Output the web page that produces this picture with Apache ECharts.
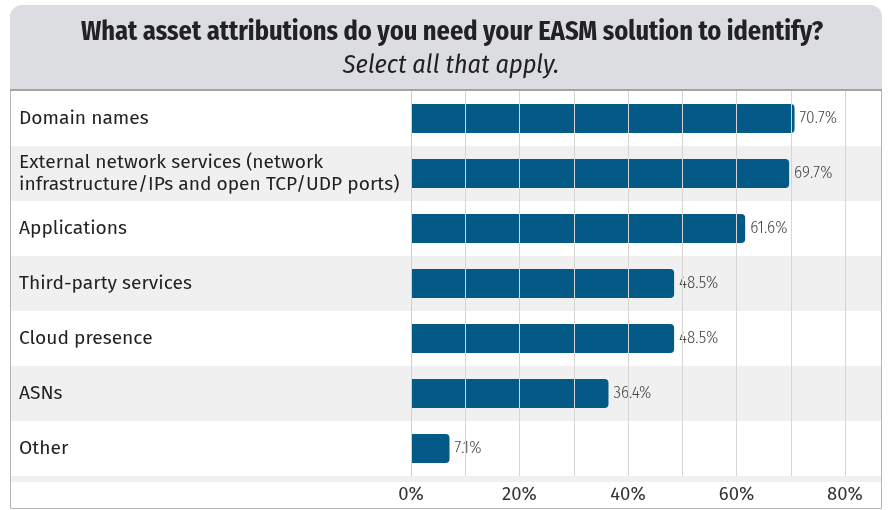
<!DOCTYPE html>
<html>
<head>
<meta charset="utf-8">
<script src="https://cdn.jsdelivr.net/npm/echarts@6/dist/echarts.min.js"></script>
<style>
  html, body { margin: 0; padding: 0; background: #ffffff; }
  #chart { width: 889px; height: 510px; }
</style>
</head>
<body>
<div id="chart"></div>
<script>
// Survey answers, top to bottom
const categories = [
  'Domain names',
  'External network services (network\ninfrastructure/IPs and open TCP/UDP ports)',
  'Applications',
  'Third-party services',
  'Cloud presence',
  'ASNs',
  'Other'
];
// Share of respondents (%)
const shares = [70.7, 69.7, 61.6, 48.5, 48.5, 36.4, 7.1];
// Labelled ticks on the percentage axis
const tickLabels = [0, 20, 40, 60, 80];

const titleLine = 'What asset attributions do you need your EASM solution to identify?';
const subtitleLine = 'Select all that apply.';

const condensed = '"Fira Sans Condensed", "DejaVu Sans Condensed", "Liberation Sans Narrow", sans-serif';
const regular = '"Fira Sans", "Noto Sans", "Open Sans", sans-serif';

const chart = echarts.init(document.getElementById('chart'), null, { renderer: 'canvas' });

chart.setOption({
  animation: false,
  backgroundColor: '#ffffff',
  title: [
    {
      text: titleLine,
      left: 447, top: 15, textAlign: 'center',
      textStyle: { fontFamily: condensed, fontWeight: 'bold', fontSize: 26.3, color: '#222222' }
    },
    {
      text: subtitleLine,
      left: 446, top: 48, textAlign: 'center',
      textStyle: { fontFamily: condensed, fontStyle: 'italic', fontWeight: 'normal', fontSize: 26, color: '#222222' }
    }
  ],
  graphic: [
    {
      type: 'rect', z: -10,
      shape: { x: 10, y: 5, width: 872, height: 85, r: [12, 12, 0, 0] },
      style: { fill: '#dcdde0' }
    },
    {
      // start of the next row band, cut off by the axis strip
      type: 'rect', z: -5,
      shape: { x: 11, y: 476, width: 871, height: 6 },
      style: { fill: '#f0f0f0' }
    },
    {
      type: 'rect', z: 20, silent: true,
      shape: { x: 10.5, y: 90.5, width: 871, height: 418 },
      style: { fill: 'none', stroke: '#b4b4b4', lineWidth: 1 }
    },
    {
      type: 'line', z: 21, silent: true,
      shape: { x1: 10, y1: 90, x2: 882, y2: 90 },
      style: { stroke: '#a3a3a3', lineWidth: 2 }
    }
  ],
  grid: [
    { left: 411, right: 44, top: 91, height: 385 },
    // full-width grid that only paints the alternating row bands
    { left: 11, right: 7, top: 91, height: 385 }
  ],
  xAxis: [
    {
      gridIndex: 0, type: 'value', min: 0, max: 80, interval: 10, z: 10,
      axisLine: { show: false }, axisTick: { show: false },
      splitLine: { show: true, lineStyle: { color: '#d6d6d6', width: 1 } },
      axisLabel: {
        margin: 9,
        fontFamily: regular, fontSize: 18.5, color: '#333333',
        formatter: v => tickLabels.includes(v) ? v + '%' : ''
      }
    },
    { gridIndex: 1, type: 'value', min: 0, max: 1, show: false }
  ],
  yAxis: [
    {
      gridIndex: 0, type: 'category', inverse: true, data: categories, z: 10,
      axisLine: { show: true, lineStyle: { color: '#cfcfcf', width: 1 } },
      axisTick: { show: false },
      axisLabel: {
        align: 'left', margin: 392, padding: [2, 0, 0, 0],
        fontFamily: regular, fontSize: 19.2, color: '#222222', lineHeight: 22
      }
    },
    {
      gridIndex: 1, type: 'category', inverse: true, data: categories,
      axisLine: { show: false }, axisTick: { show: false }, axisLabel: { show: false },
      splitLine: { show: false },
      splitArea: { show: true, areaStyle: { color: ['#ffffff', '#f0f0f0'] } }
    }
  ],
  series: [
    {
      type: 'bar', xAxisIndex: 0, yAxisIndex: 0,
      data: shares, barWidth: 29, z: 5,
      itemStyle: { color: '#035a86', borderRadius: [0, 4, 4, 0] },
      label: {
        show: true, position: 'right', distance: 5,
        formatter: p => p.value + '%',
        fontFamily: condensed, fontWeight: 300, fontSize: 17, color: '#444444'
      }
    }
  ]
});
</script>
</body>
</html>
